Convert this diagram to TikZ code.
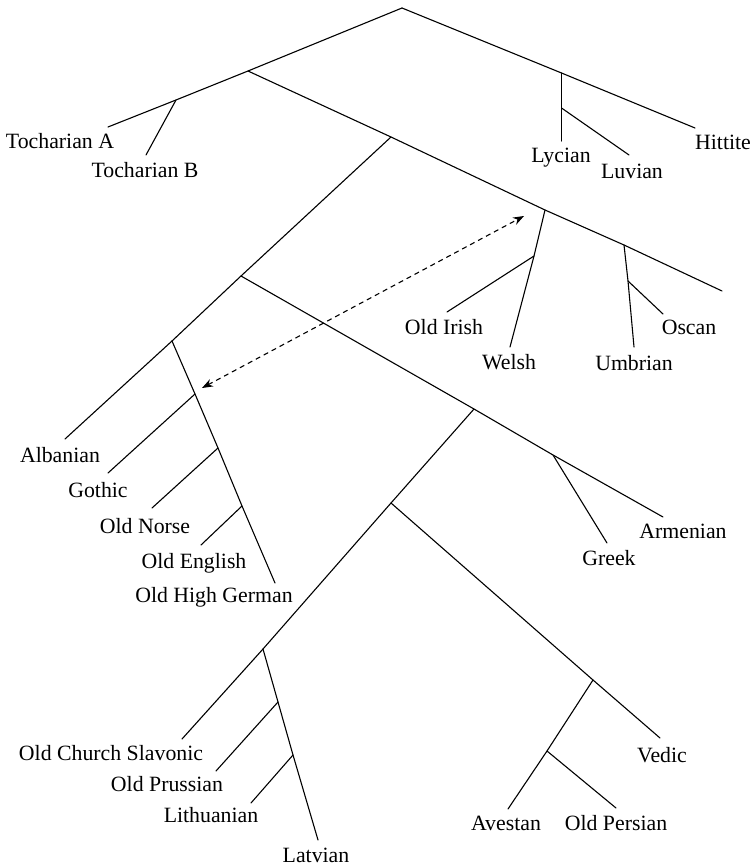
\documentclass[tikz,border=0pt]{standalone}
\usepackage{fontspec}
\setmainfont{Liberation Serif}
\usetikzlibrary{arrows.meta}
\begin{document}
\begin{tikzpicture}[x=1pt,y=-1pt,
  branch/.style={line width=1.1pt, line cap=round},
  lang/.style={font=\fontsize{21.8}{23}\selectfont, inner sep=0pt, anchor=center},
  contact/.style={line width=1.1pt, dashed, dash pattern=on 5pt off 4pt, {Stealth[length=11pt,width=8pt]}-{Stealth[length=11pt,width=8pt]}}]
\useasboundingbox (0,0) rectangle (755,866);
% junctions and ends
\coordinate (root) at (402,8);
\coordinate (jA) at (248,71);
\coordinate (jT) at (176,100);
\coordinate (eTA) at (108,127);
\coordinate (eTB) at (146,155);
\coordinate (jAn) at (561.5,73);
\coordinate (eHit) at (695,128);
\coordinate (eLyc) at (561.5,141);
\coordinate (jLu) at (561.5,108);
\coordinate (eLuv) at (629,155);
\coordinate (jB) at (391,137);
\coordinate (jCel) at (545,210);
\coordinate (jIt) at (624,245);
\coordinate (eCI) at (722,291);
\coordinate (jOI) at (534,256);
\coordinate (eOI) at (447,312);
\coordinate (eWel) at (510,347);
\coordinate (jOsc) at (628,281);
\coordinate (eOsc) at (663,314);
\coordinate (eUmb) at (634,347);
\coordinate (jC) at (241,276);
\coordinate (jG) at (172,341);
\coordinate (eAlb) at (65,439);
\coordinate (jGo) at (195,394);
\coordinate (eGo) at (108,473);
\coordinate (jON) at (218,448);
\coordinate (eON) at (152,508);
\coordinate (jOE) at (242,506);
\coordinate (eOE) at (201,545);
\coordinate (eOHG) at (275,583);
\coordinate (jD) at (474,409);
\coordinate (jGA) at (553,455);
\coordinate (eArm) at (663,517);
\coordinate (eGr) at (607,543);
\coordinate (jE) at (391,503);
\coordinate (jBS) at (263,649);
\coordinate (eOCS) at (182,739);
\coordinate (jOP) at (278,702);
\coordinate (eOP) at (216,771);
\coordinate (jLi) at (293,755);
\coordinate (eLi) at (251,803);
\coordinate (eLat) at (318,840);
\coordinate (jII) at (593,680);
\coordinate (eVed) at (660,738);
\coordinate (jAv) at (547,751);
\coordinate (eAv) at (508,809);
\coordinate (eOPe) at (616,808);
\coordinate (arL) at (202,388);
\coordinate (arR) at (524,216);
% branches
\draw[branch] (root) -- (jA) -- (jT) -- (eTA);
\draw[branch] (jT) -- (eTB);
\draw[branch] (root) -- (jAn) -- (eHit);
\draw[branch] (jAn) -- (jLu) -- (eLyc);
\draw[branch] (jLu) -- (eLuv);
\draw[branch] (jA) -- (jB) -- (jCel) -- (jIt) -- (eCI);
\draw[branch] (jCel) -- (jOI) -- (eWel);
\draw[branch] (jOI) -- (eOI);
\draw[branch] (jIt) -- (jOsc) -- (eUmb);
\draw[branch] (jOsc) -- (eOsc);
\draw[branch] (jB) -- (jC) -- (jG) -- (eAlb);
\draw[branch] (jG) -- (jGo) -- (jON) -- (jOE) -- (eOHG);
\draw[branch] (jGo) -- (eGo);
\draw[branch] (jON) -- (eON);
\draw[branch] (jOE) -- (eOE);
\draw[branch] (jC) -- (jD) -- (jGA) -- (eArm);
\draw[branch] (jGA) -- (eGr);
\draw[branch] (jD) -- (jE) -- (jBS) -- (eOCS);
\draw[branch] (jBS) -- (jOP) -- (jLi) -- (eLat);
\draw[branch] (jOP) -- (eOP);
\draw[branch] (jLi) -- (eLi);
\draw[branch] (jE) -- (jII) -- (eVed);
\draw[branch] (jII) -- (jAv) -- (eAv);
\draw[branch] (jAv) -- (eOPe);
\draw[contact] (arL) -- (arR);
% labels
\node[lang] (lTA) at (60,141) {Tocharian A};
\node[lang] (lTB) at (145,170) {Tocharian B};
\node[lang] (lLyc) at (561,158) {Lycian};
\node[lang] (lLuv) at (632,171) {Luvian};
\node[lang] (lHit) at (723,142) {Hittite};
\node[lang] (lOI) at (444,327) {Old Irish};
\node[lang] (lWel) at (509,362) {Welsh};
\node[lang] (lUmb) at (634,363) {Umbrian};
\node[lang] (lOsc) at (689,327) {Oscan};
\node[lang] (lAlb) at (60,455) {Albanian};
\node[lang] (lGo) at (98,490) {Gothic};
\node[lang] (lON) at (145,526) {Old Norse};
\node[lang] (lOE) at (194,563) {Old English};
\node[lang] (lOHG) at (214,597) {Old High German};
\node[lang] (lArm) at (683,531) {Armenian};
\node[lang] (lGr) at (609,558) {Greek};
\node[lang] (lOCS) at (111,753) {Old Church Slavonic};
\node[lang] (lOP) at (167,784) {Old Prussian};
\node[lang] (lLi) at (211,815) {Lithuanian};
\node[lang] (lLat) at (316,855) {Latvian};
\node[lang] (lVed) at (662,755) {Vedic};
\node[lang] (lAv) at (506,823) {Avestan};
\node[lang] (lOPe) at (616,823) {Old Persian};
\end{tikzpicture}
\end{document}
